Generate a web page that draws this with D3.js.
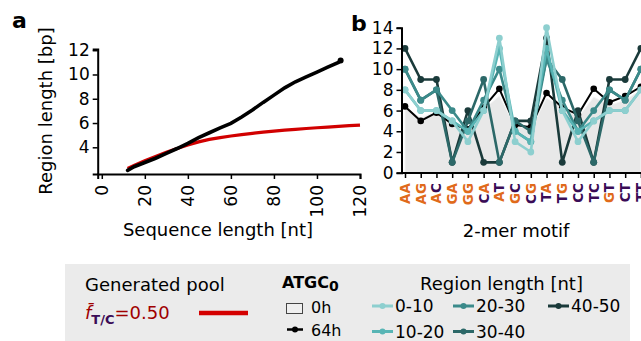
<!DOCTYPE html>
<html><head><meta charset="utf-8">
<script src="https://cdn.jsdelivr.net/npm/d3@7"></script>
<style>
html,body{margin:0;padding:0;background:#fff;}
svg{display:block;font-family:"DejaVu Sans",sans-serif;}
</style></head>
<body><svg id="c" width="641" height="341"></svg>
<script>
// ---------- Panel a data ----------
const seqX64 = [12,15,20,25,30,35,40,45,50,55,60,65,70,75,80,85,90,95,100,105,110,111];
const region64 = [2.1,2.4,2.75,3.1,3.5,3.9,4.33,4.8,5.2,5.6,5.97,6.5,7.07,7.7,8.3,8.9,9.4,9.8,10.2,10.6,11.0,11.15];
const seqXPool = [12,15,20,25,30,35,40,45,50,55,60,65,70,75,80,85,90,95,100,105,110,115,120];
const regionPool = [2.25,2.5,2.9,3.25,3.6,3.9,4.19,4.45,4.65,4.8,4.93,5.05,5.15,5.25,5.34,5.41,5.48,5.55,5.61,5.67,5.73,5.78,5.83];
const aXTicks = [0,20,40,60,80,100,120];
const aYTicks = [4,6,8,10,12];

// ---------- Panel b data ----------
const motifs = ["AA","AG","AC","GA","GG","CA","AT","GC","CG","TA","TG","CC","TC","GT","CT","TT"];
const h0 = [6.2,5.3,5.9,4.8,4.0,6.1,7.4,4.5,4.2,7.2,6.4,5.3,7.3,6.5,7.0,8.0];
const h64 = [6.4,5.0,5.8,4.7,4.2,6.3,8.1,4.6,4.4,7.7,6.3,5.6,8.1,6.8,7.4,8.3];
const len0_10  = [8,6,6,5,3,6,13,3,2,14,6,3,5,6,6,8];
const len10_20 = [8,6,6,5,4,6,12,4,3,12,6,4,5,6,6,8];
const len20_30 = [10,7,8,6,4,7,10,4,3,11,7,4,6,8,7,10];
const len30_40 = [10,7,8,1,5,9,1,5,4,11,9,5,1,8,7,10];
const len40_50 = [12,9,9,1,6,1,1,5,5,13,1,6,1,9,9,12];
const lenLabels = ["0-10","10-20","20-30","30-40","40-50"];
const bYTicks = [0,2,4,6,8,10,12,14];

const lenSeries = [len0_10,len10_20,len20_30,len30_40,len40_50];
const lenColors = ["#8dcfcf","#58b5b5","#3b8a8a","#2c6868","#1a3a3a"];
const orange = "#e06a1b", purple = "#3a0c56";

const svg = d3.select("#c");

// ================= Panel a =================
const xA = d3.scaleLinear().domain([-1.9,120]).range([97.7,360]);
const yA = d3.scaleLinear().domain([1.8,12.1]).range([174,49]);

const gA = svg.append("g");
const axA_y = gA.append("g").attr("transform","translate(97.7,0)")
  .call(d3.axisLeft(yA).tickValues(aYTicks).tickSize(5).tickPadding(3).tickFormat(d3.format("d")));
const axA_x = gA.append("g").attr("transform","translate(0,174)")
  .call(d3.axisBottom(xA).tickValues(aXTicks).tickSize(5).tickFormat(d3.format("d")));
[axA_y,axA_x].forEach(a=>{
  a.select(".domain").attr("stroke","#000").attr("stroke-width",2);
  a.selectAll(".tick line").attr("stroke","#000").attr("stroke-width",1.5);
});
axA_y.selectAll("text").attr("font-size",17).attr("fill","#000").attr("font-family","DejaVu Sans");
axA_x.selectAll("text").attr("font-size",17).attr("fill","#000").attr("font-family","DejaVu Sans")
  .attr("text-anchor","end").attr("transform","rotate(-90)")
  .attr("x",-11).attr("y",0).attr("dy","0.35em");

const lineA = d3.line().x(d=>xA(d[0])).y(d=>yA(d[1])).curve(d3.curveLinear);
gA.append("path").datum(seqXPool.map((x,i)=>[x,regionPool[i]]))
  .attr("d",lineA).attr("fill","none").attr("stroke","#d10000").attr("stroke-width",3.2);
gA.append("path").datum(seqX64.map((x,i)=>[x,region64[i]]))
  .attr("d",lineA).attr("fill","none").attr("stroke","#000").attr("stroke-width",3.6)
  .attr("stroke-linecap","round");
gA.append("circle").attr("cx",xA(seqX64[seqX64.length-1])).attr("cy",yA(region64[region64.length-1]))
  .attr("r",3).attr("fill","#000");

gA.append("text").attr("transform","translate(52,111) rotate(-90)").attr("text-anchor","middle")
  .attr("font-size",18).text("Region length [bp]");
gA.append("text").attr("x",218).attr("y",236).attr("text-anchor","middle")
  .attr("font-size",18).text("Sequence length [nt]");
svg.append("text").attr("x",12).attr("y",28).attr("font-size",22).attr("font-weight","bold").text("a");

// ================= Panel b =================
const xB = d3.scalePoint().domain(motifs).range([405,640.9]);
const yB = d3.scaleLinear().domain([0,14]).range([172.7,27.7]);
const gB = svg.append("g");

gB.append("path").datum(h0)
  .attr("d",d3.area().x((d,i)=>xB(motifs[i])).y0(yB(0)).y1(d=>yB(d)))
  .attr("fill","#e8e8e8").attr("stroke","#f4f4f4").attr("stroke-width",1);

const lineB = d3.line().x((d,i)=>xB(motifs[i])).y(d=>yB(d));
function series(vals,color,r,w){
  const g = gB.append("g");
  g.append("path").datum(vals).attr("d",lineB).attr("fill","none")
    .attr("stroke",color).attr("stroke-width",w).attr("stroke-linejoin","round");
  g.selectAll("circle").data(vals).join("circle")
    .attr("cx",(d,i)=>xB(motifs[i])).attr("cy",d=>yB(d)).attr("r",r).attr("fill",color);
}
series(h64,"#000",3.3,2);
for(let k=lenSeries.length-1;k>=0;k--) series(lenSeries[k],lenColors[k],3.4,2.6);

const axB_y = gB.append("g").attr("transform","translate(401.5,0)")
  .call(d3.axisLeft(yB).tickValues(bYTicks).tickSize(5).tickPadding(3));
const axB_x = gB.append("g").attr("transform","translate(0,173)")
  .call(d3.axisBottom(xB).tickSize(5).tickFormat(""));
axB_x.select(".domain").attr("d","M401.5,0H641");
[axB_y,axB_x].forEach(a=>{
  a.select(".domain").attr("stroke","#000").attr("stroke-width",2);
  a.selectAll(".tick line").attr("stroke","#000").attr("stroke-width",1.5);
});
axB_y.selectAll("text").attr("font-size",17).attr("fill","#000").attr("font-family","DejaVu Sans");

const lab = gB.append("g");
motifs.forEach(m=>{
  const t = lab.append("text")
    .attr("transform",`translate(${xB(m)},183) rotate(-90)`)
    .attr("text-anchor","end").attr("dy","0.36em")
    .attr("font-size",13.5).attr("font-weight","bold");
  m.split("").forEach(ch=>{
    t.append("tspan").attr("fill",(ch==="A"||ch==="G")?orange:purple).text(ch);
  });
});
gB.append("text").attr("x",516).attr("y",237).attr("text-anchor","middle")
  .attr("font-size",18).text("2-mer motif");
svg.append("text").attr("x",351).attr("y",31).attr("font-size",22).attr("font-weight","bold").text("b");

// ================= Legend =================
const L = svg.append("g");
L.append("rect").attr("x",65).attr("y",264).attr("width",565).attr("height",80).attr("fill","#ebebeb");
L.append("text").attr("x",85).attr("y",291).attr("font-size",18).text("Generated pool");
const ft = L.append("text").attr("x",85).attr("y",319).attr("font-size",18).attr("fill","#a00000");
ft.append("tspan").attr("font-style","italic").text("f\u0304");
ft.append("tspan").attr("font-size",13).attr("font-weight","bold").attr("fill",purple).attr("dy",5).text("T/C");
ft.append("tspan").attr("dy",-5).text("=0.50");
L.append("line").attr("x1",199).attr("x2",248).attr("y1",313).attr("y2",313)
  .attr("stroke","#d40000").attr("stroke-width",4.5);

const at = L.append("text").attr("x",282).attr("y",288).attr("font-size",16).attr("font-weight","bold");
at.append("tspan").text("ATGC");
at.append("tspan").attr("font-size",14).attr("dy",3).text("0");
L.append("rect").attr("x",286.5).attr("y",303.5).attr("width",16).attr("height",10)
  .attr("fill","#efefef").attr("stroke","#444").attr("stroke-width",1);
L.append("text").attr("x",311).attr("y",313).attr("font-size",16).text("0h");
L.append("line").attr("x1",287).attr("x2",303).attr("y1",329.5).attr("y2",329.5).attr("stroke","#000").attr("stroke-width",2.5);
L.append("circle").attr("cx",295).attr("cy",329.5).attr("r",3).attr("fill","#000");
L.append("text").attr("x",311).attr("y",335.5).attr("font-size",16).text("64h");

L.append("text").attr("x",420).attr("y",290).attr("font-size",18).text("Region length [nt]");
const legPos = [[372,312],[372,337.5],[453,312],[453,337.5],[548,312]];
lenLabels.forEach((lb,k)=>{
  const [x,y] = legPos[k];
  L.append("line").attr("x1",x).attr("x2",x+21).attr("y1",y-6).attr("y2",y-6)
    .attr("stroke",lenColors[k]).attr("stroke-width",3);
  L.append("circle").attr("cx",x+10.5).attr("cy",y-6).attr("r",3).attr("fill",lenColors[k]);
  L.append("text").attr("x",x+23).attr("y",y).attr("font-size",17).text(lb);
});
</script></body></html>
